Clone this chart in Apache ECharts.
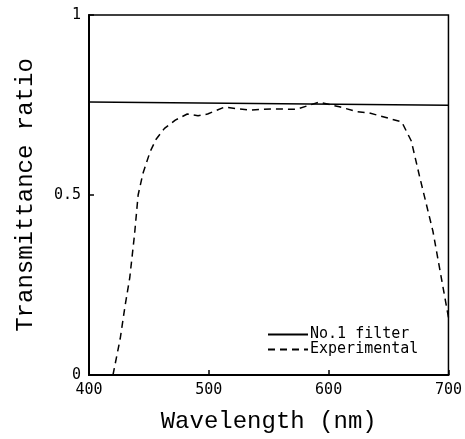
<!DOCTYPE html>
<html>
<head>
<meta charset="utf-8">
<script src="https://cdn.jsdelivr.net/npm/echarts@6/dist/echarts.min.js"></script>
<style>
  html, body { margin: 0; padding: 0; background: #fff; }
  #chart { width: 465px; height: 439px; }
</style>
</head>
<body>
<div id="chart"></div>
<script>
// No.1 filter: nearly flat line
let filterWave = [400, 700];
let filterRatio = [0.758, 0.749];

// measured curve
let expWave = [420, 426, 430, 434, 438, 441, 445, 451, 456, 463, 472, 482, 491, 499,
  513, 534, 553, 573, 592, 609, 623, 634, 661, 669, 676, 687, 700];
let expRatio = [0, 0.10, 0.19, 0.27, 0.39, 0.50, 0.56, 0.62, 0.655, 0.685, 0.708, 0.725, 0.72, 0.725,
  0.744, 0.736, 0.739, 0.738, 0.758, 0.745, 0.732, 0.728, 0.703, 0.65, 0.55, 0.40, 0.16];

let xTicks = [400, 500, 600, 700];
let yTicks = [0, 0.5, 1];

let mono = "'DejaVu Sans Mono', 'Liberation Mono', monospace";
let thinMono = "'Liberation Mono', 'DejaVu Sans Mono', monospace";

let pairs = function(xs, ys) {
  return xs.map((x, i) => [x, ys[i]]);
};

let chart = echarts.init(document.getElementById('chart'));

chart.setOption({
  backgroundColor: '#fff',
  animation: false,
  grid: { left: 89, right: 16, top: 15, bottom: 64, show: true, borderColor: '#000', borderWidth: 1.5 },
  legend: {
    orient: 'vertical',
    left: 267,
    top: 327,
    itemWidth: 40,
    itemHeight: 13,
    itemGap: 0,
    padding: 0,
    itemStyle: { opacity: 0 },
    textStyle: { fontFamily: mono, fontSize: 15, color: '#000', padding: [0, 0, 0, -3], lineHeight: 13 },
    data: ['No.1 filter', 'Experimental']
  },
  xAxis: {
    type: 'value',
    min: xTicks[0],
    max: xTicks[xTicks.length - 1],
    interval: 100,
    name: 'Wavelength (nm)',
    nameLocation: 'middle',
    nameGap: 35,
    nameTextStyle: { fontFamily: thinMono, fontSize: 24, color: '#000' },
    axisLine: { lineStyle: { color: '#000', width: 2 } },
    axisTick: { inside: true, length: 5, lineStyle: { color: '#000', width: 1.5 } },
    axisLabel: { fontFamily: mono, fontSize: 15, color: '#000', margin: 8 },
    splitLine: { show: false }
  },
  yAxis: {
    type: 'value',
    min: yTicks[0],
    max: yTicks[yTicks.length - 1],
    interval: 0.5,
    name: 'Transmittance ratio',
    nameLocation: 'middle',
    nameGap: 51,
    nameTextStyle: { fontFamily: thinMono, fontSize: 24, color: '#000' },
    axisLine: { lineStyle: { color: '#000', width: 2 } },
    axisTick: { inside: true, length: 5, lineStyle: { color: '#000', width: 1.5 } },
    axisLabel: { fontFamily: mono, fontSize: 15, color: '#000', margin: 8 },
    splitLine: { show: false }
  },
  series: [
    {
      name: 'No.1 filter',
      type: 'line',
      symbol: 'none',
      data: pairs(filterWave, filterRatio),
      lineStyle: { color: '#000', width: 1.5, type: 'solid' },
      itemStyle: { color: '#000' }
    },
    {
      name: 'Experimental',
      type: 'line',
      symbol: 'none',
      data: pairs(expWave, expRatio),
      lineStyle: { color: '#000', width: 1.5, type: [7, 5] },
      itemStyle: { color: '#000' }
    }
  ]
});
</script>
</body>
</html>
